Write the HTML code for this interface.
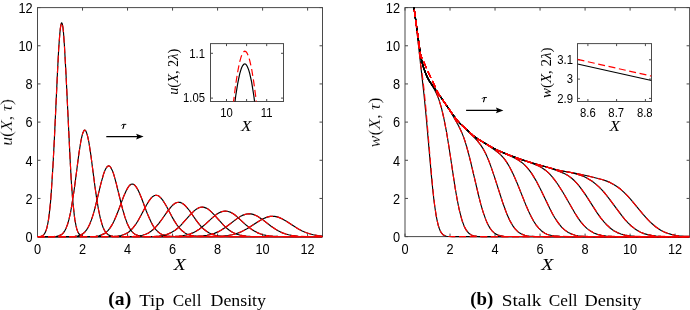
<!DOCTYPE html>
<html><head><meta charset="utf-8"><style>
html,body{margin:0;padding:0;background:#fff;}
body{width:690px;height:310px;overflow:hidden;}
svg{display:block;will-change:transform;}
</style></head><body>
<svg width="690" height="310" viewBox="0 0 690 310">
<defs><clipPath id="cl"><rect x="37.50" y="6.60" width="285.00" height="231.00"/></clipPath>
<clipPath id="cr"><rect x="405.00" y="7.60" width="284.60" height="231.00"/></clipPath></defs>
<rect x="37.50" y="7.60" width="285.00" height="229.00" fill="none" stroke="#4a4a4a" stroke-width="1"/>
<path d="M37.50 236.60v-3.00M37.50 7.60v3.00" stroke="#4a4a4a" stroke-width="1"/>
<path d="M82.52 236.60v-3.00M82.52 7.60v3.00" stroke="#4a4a4a" stroke-width="1"/>
<path d="M127.54 236.60v-3.00M127.54 7.60v3.00" stroke="#4a4a4a" stroke-width="1"/>
<path d="M172.56 236.60v-3.00M172.56 7.60v3.00" stroke="#4a4a4a" stroke-width="1"/>
<path d="M217.58 236.60v-3.00M217.58 7.60v3.00" stroke="#4a4a4a" stroke-width="1"/>
<path d="M262.60 236.60v-3.00M262.60 7.60v3.00" stroke="#4a4a4a" stroke-width="1"/>
<path d="M307.62 236.60v-3.00M307.62 7.60v3.00" stroke="#4a4a4a" stroke-width="1"/>
<path d="M37.50 236.60h3.00M322.50 236.60h-3.00" stroke="#4a4a4a" stroke-width="1"/>
<path d="M37.50 198.43h3.00M322.50 198.43h-3.00" stroke="#4a4a4a" stroke-width="1"/>
<path d="M37.50 160.27h3.00M322.50 160.27h-3.00" stroke="#4a4a4a" stroke-width="1"/>
<path d="M37.50 122.10h3.00M322.50 122.10h-3.00" stroke="#4a4a4a" stroke-width="1"/>
<path d="M37.50 83.93h3.00M322.50 83.93h-3.00" stroke="#4a4a4a" stroke-width="1"/>
<path d="M37.50 45.77h3.00M322.50 45.77h-3.00" stroke="#4a4a4a" stroke-width="1"/>
<path d="M37.50 7.60h3.00M322.50 7.60h-3.00" stroke="#4a4a4a" stroke-width="1"/>
<rect x="405.00" y="7.60" width="284.60" height="229.00" fill="none" stroke="#4a4a4a" stroke-width="1"/>
<path d="M405.00 236.60v-3.00M405.00 7.60v3.00" stroke="#4a4a4a" stroke-width="1"/>
<path d="M450.02 236.60v-3.00M450.02 7.60v3.00" stroke="#4a4a4a" stroke-width="1"/>
<path d="M495.04 236.60v-3.00M495.04 7.60v3.00" stroke="#4a4a4a" stroke-width="1"/>
<path d="M540.06 236.60v-3.00M540.06 7.60v3.00" stroke="#4a4a4a" stroke-width="1"/>
<path d="M585.08 236.60v-3.00M585.08 7.60v3.00" stroke="#4a4a4a" stroke-width="1"/>
<path d="M630.10 236.60v-3.00M630.10 7.60v3.00" stroke="#4a4a4a" stroke-width="1"/>
<path d="M675.12 236.60v-3.00M675.12 7.60v3.00" stroke="#4a4a4a" stroke-width="1"/>
<path d="M405.00 236.60h3.00M689.60 236.60h-3.00" stroke="#4a4a4a" stroke-width="1"/>
<path d="M405.00 198.43h3.00M689.60 198.43h-3.00" stroke="#4a4a4a" stroke-width="1"/>
<path d="M405.00 160.27h3.00M689.60 160.27h-3.00" stroke="#4a4a4a" stroke-width="1"/>
<path d="M405.00 122.10h3.00M689.60 122.10h-3.00" stroke="#4a4a4a" stroke-width="1"/>
<path d="M405.00 83.93h3.00M689.60 83.93h-3.00" stroke="#4a4a4a" stroke-width="1"/>
<path d="M405.00 45.77h3.00M689.60 45.77h-3.00" stroke="#4a4a4a" stroke-width="1"/>
<path d="M405.00 7.60h3.00M689.60 7.60h-3.00" stroke="#4a4a4a" stroke-width="1"/>
<g clip-path="url(#cl)" fill="none" stroke-linejoin="round">
<path d="M37.5 236.6L40.7 236.3L41.6 236.0L42.6 235.6L43.5 234.9L44.2 234.2L45.4 232.1L46.7 228.6L47.6 224.6L48.6 219.2L49.5 211.8L50.5 202.4L51.4 190.5L53.0 165.2L54.3 140.4L57.5 71.9L58.7 48.5L59.7 35.1L60.3 28.7L61.0 24.6L61.3 23.4L61.6 22.9L61.9 23.0L62.2 23.7L62.9 27.0L63.5 32.7L64.4 45.2L66.0 74.1L70.2 161.3L71.4 182.8L72.7 200.0L74.3 215.4L74.9 219.9L75.9 225.2L76.8 229.0L77.8 231.7L78.7 233.5L80.0 235.0L81.2 235.8L82.8 236.3L84.7 236.5L87.9 236.6L322.5 236.6" stroke="#000" stroke-width="1.15"/>
<path d="M37.5 236.6L53.4 236.5L56.5 236.3L58.7 235.8L61.0 234.9L61.9 234.3L62.9 233.4L64.4 231.4L66.0 228.4L67.6 224.2L68.9 219.7L70.5 212.7L71.7 205.8L74.3 189.0L79.0 152.9L80.9 141.0L81.9 136.4L82.8 133.0L83.8 130.9L84.4 130.2L84.7 130.1L85.1 130.2L85.7 130.8L86.6 132.8L87.6 136.1L88.9 142.3L90.8 154.6L94.9 186.1L96.5 197.4L98.4 209.0L100.3 218.2L102.2 224.9L103.1 227.5L104.4 230.2L105.3 231.7L106.6 233.3L107.9 234.4L109.5 235.4L111.0 235.9L113.3 236.3L116.1 236.5L120.2 236.6L322.5 236.6" stroke="#000" stroke-width="1.15"/>
<path d="M37.5 236.6L67.6 236.6L74.9 236.3L78.1 235.8L80.6 235.0L82.8 233.8L84.7 232.2L86.6 229.9L88.2 227.3L89.8 224.0L91.4 219.9L93.0 215.1L94.9 208.4L100.9 183.7L103.4 174.6L104.7 171.0L106.0 168.3L107.2 166.6L107.9 166.1L108.5 165.9L109.1 166.0L109.8 166.3L110.4 167.0L111.0 167.9L112.3 170.4L113.6 173.9L116.1 182.8L120.9 202.5L122.8 209.9L125.0 217.4L127.2 223.4L129.4 228.0L130.7 230.0L132.0 231.6L133.2 232.9L134.5 233.9L136.1 234.8L137.7 235.4L139.9 236.0L142.4 236.3L150.4 236.6L322.5 236.6" stroke="#000" stroke-width="1.15"/>
<path d="M37.5 236.6L82.8 236.6L92.0 236.5L95.8 236.2L99.0 235.7L101.5 234.9L103.8 233.9L106.0 232.4L108.2 230.3L110.1 227.9L112.0 224.9L113.9 221.2L116.1 216.3L118.3 210.7L123.4 197.1L126.3 190.5L127.9 187.6L129.4 185.5L130.4 184.7L131.0 184.3L132.3 184.0L133.6 184.3L134.2 184.7L135.1 185.6L136.7 187.7L138.3 190.6L141.2 197.2L146.2 210.8L148.8 217.1L151.3 222.6L153.5 226.5L156.1 229.9L158.6 232.4L159.9 233.3L161.5 234.3L163.0 234.9L164.6 235.4L167.2 236.0L170.0 236.3L178.6 236.6L322.5 236.6" stroke="#000" stroke-width="1.15"/>
<path d="M37.5 236.6L109.8 236.5L114.2 236.4L117.7 236.0L120.9 235.5L123.4 234.8L125.9 233.7L128.5 232.2L131.0 230.0L133.2 227.6L135.5 224.7L138.0 220.7L140.5 216.2L146.2 205.5L149.4 200.3L151.3 197.9L152.9 196.4L154.5 195.5L156.1 195.2L157.7 195.5L159.2 196.3L160.8 197.8L162.7 200.1L165.9 205.3L171.9 216.6L174.5 221.1L177.0 225.0L179.5 228.2L182.1 230.8L184.9 232.9L187.8 234.4L190.9 235.4L193.5 235.9L196.6 236.3L200.4 236.5L205.8 236.6L322.5 236.6" stroke="#000" stroke-width="1.15"/>
<path d="M37.5 236.6L127.2 236.5L136.1 236.2L139.6 235.8L142.4 235.2L145.6 234.2L148.5 232.9L151.0 231.3L153.5 229.3L156.1 226.7L158.9 223.3L161.8 219.5L167.8 210.9L171.3 206.6L173.2 204.7L175.1 203.3L177.0 202.5L178.6 202.3L180.2 202.4L182.1 203.2L184.0 204.5L185.9 206.3L187.4 208.1L189.4 210.5L195.7 219.6L198.5 223.4L201.4 226.8L203.9 229.3L206.5 231.3L209.3 233.1L212.2 234.4L215.3 235.3L218.2 235.8L221.4 236.2L225.5 236.4L230.6 236.6L322.5 236.6" stroke="#000" stroke-width="1.15"/>
<path d="M37.5 236.6L145.6 236.6L155.7 236.3L159.2 236.0L162.4 235.5L165.9 234.7L169.1 233.6L172.2 232.1L175.1 230.2L177.9 228.0L180.8 225.3L183.6 222.2L190.6 214.3L194.4 210.6L196.6 209.0L198.5 207.9L200.4 207.3L202.3 207.1L204.3 207.4L206.2 208.1L208.1 209.1L210.3 210.9L213.8 214.3L223.3 224.9L226.1 227.7L229.0 230.0L231.5 231.7L234.1 233.0L236.9 234.2L239.8 235.0L242.6 235.6L246.1 236.1L250.2 236.4L255.3 236.5L322.5 236.6" stroke="#000" stroke-width="1.15"/>
<path d="M37.5 236.6L164.0 236.6L175.1 236.3L178.9 236.1L182.4 235.7L186.2 235.0L189.7 234.1L192.8 232.9L196.0 231.3L199.2 229.2L202.3 226.8L205.5 224.1L212.8 217.4L216.9 214.1L219.2 212.7L221.1 211.9L223.3 211.2L225.2 211.0L227.1 211.2L229.0 211.7L230.9 212.4L232.8 213.5L234.7 214.8L236.9 216.6L246.4 225.3L249.0 227.4L251.5 229.3L254.3 231.1L257.2 232.6L260.0 233.8L262.9 234.7L266.1 235.4L269.2 235.8L273.0 236.2L277.8 236.4L288.9 236.6L322.5 236.6" stroke="#000" stroke-width="1.15"/>
<path d="M37.5 236.6L183.3 236.6L195.1 236.4L203.0 235.9L207.1 235.3L210.9 234.5L214.4 233.4L217.9 231.9L221.4 230.0L224.9 227.8L228.0 225.5L236.0 219.4L240.1 216.6L242.3 215.4L244.5 214.6L246.7 214.0L249.0 213.8L250.9 213.9L253.1 214.4L255.3 215.2L257.5 216.3L261.6 218.9L271.1 226.2L275.6 229.3L278.1 230.8L280.7 232.1L283.2 233.1L285.7 234.0L288.6 234.8L291.4 235.4L294.6 235.8L298.4 236.2L307.3 236.5L322.5 236.6" stroke="#000" stroke-width="1.15"/>
<path d="M37.5 236.6L202.7 236.6L215.3 236.4L223.6 236.0L228.0 235.5L232.1 234.7L236.0 233.7L239.8 232.4L243.2 230.8L247.0 228.8L258.8 221.2L263.2 218.7L265.8 217.6L268.0 216.9L270.2 216.4L272.4 216.3L274.6 216.4L277.2 216.9L279.4 217.6L281.9 218.7L286.4 221.2L294.9 226.8L298.4 228.9L302.2 231.0L305.7 232.5L309.5 233.8L313.3 234.8L317.7 235.6L322.5 236.1" stroke="#000" stroke-width="1.15"/>
<path d="M37.5 236.6L40.7 236.3L41.6 236.0L42.6 235.6L43.5 234.9L44.2 234.2L45.4 232.1L46.7 228.6L47.6 224.6L48.6 219.2L49.5 211.8L50.5 202.4L51.4 190.5L53.0 165.2L54.3 140.4L57.5 71.9L58.7 48.5L59.7 35.1L60.3 28.7L61.0 24.6L61.3 23.4L61.6 22.9L61.9 23.0L62.2 23.7L62.9 27.0L63.5 32.7L64.4 45.2L66.0 74.1L70.2 161.3L71.4 182.8L72.7 200.0L74.3 215.4L74.9 219.9L75.9 225.2L76.8 229.0L77.8 231.7L78.7 233.5L80.0 235.0L81.2 235.8L82.8 236.3L84.7 236.5L87.9 236.6L322.5 236.6" stroke="#f00" stroke-width="1.15" stroke-dasharray="7 3.6"/>
<path d="M37.5 236.6L53.4 236.5L56.5 236.3L58.7 235.8L61.0 234.9L61.9 234.3L62.9 233.4L64.4 231.4L66.0 228.4L67.6 224.2L68.9 219.7L70.5 212.7L71.7 205.8L74.3 189.0L79.0 152.9L80.9 141.0L81.9 136.4L82.8 133.0L83.8 130.9L84.4 130.2L84.7 130.1L85.1 130.2L85.7 130.8L86.6 132.8L87.6 136.1L88.9 142.3L90.8 154.6L94.9 186.1L96.5 197.4L98.4 209.0L100.3 218.2L102.2 224.9L103.1 227.5L104.4 230.2L105.3 231.7L106.6 233.3L107.9 234.4L109.5 235.4L111.0 235.9L113.3 236.3L116.1 236.5L120.2 236.6L322.5 236.6" stroke="#f00" stroke-width="1.15" stroke-dasharray="7 3.6"/>
<path d="M37.5 236.6L67.6 236.6L74.9 236.3L78.1 235.8L80.6 235.0L82.8 233.8L84.7 232.2L86.6 229.9L88.2 227.3L89.8 224.0L91.4 219.9L93.0 215.1L94.9 208.4L100.9 183.7L103.4 174.6L104.7 171.0L106.0 168.3L107.2 166.6L107.9 166.1L108.5 165.9L109.1 166.0L109.8 166.3L110.4 167.0L111.0 167.9L112.3 170.4L113.6 173.9L116.1 182.8L120.9 202.5L122.8 209.9L125.0 217.4L127.2 223.4L129.4 228.0L130.7 230.0L132.0 231.6L133.2 232.9L134.5 233.9L136.1 234.8L137.7 235.4L139.9 236.0L142.4 236.3L150.4 236.6L322.5 236.6" stroke="#f00" stroke-width="1.15" stroke-dasharray="7 3.6"/>
<path d="M37.5 236.6L82.8 236.6L92.0 236.5L95.8 236.2L99.0 235.7L101.5 234.9L103.8 233.9L106.0 232.4L108.2 230.3L110.1 227.9L112.0 224.9L113.9 221.2L116.1 216.3L118.3 210.7L123.4 197.1L126.3 190.5L127.9 187.6L129.4 185.5L130.4 184.7L131.0 184.3L132.3 184.0L133.6 184.3L134.2 184.7L135.1 185.6L136.7 187.7L138.3 190.6L141.2 197.2L146.2 210.8L148.8 217.1L151.3 222.6L153.5 226.5L156.1 229.9L158.6 232.4L159.9 233.3L161.5 234.3L163.0 234.9L164.6 235.4L167.2 236.0L170.0 236.3L178.6 236.6L322.5 236.6" stroke="#f00" stroke-width="1.15" stroke-dasharray="7 3.6"/>
<path d="M37.5 236.6L109.8 236.5L114.2 236.4L117.7 236.0L120.9 235.5L123.4 234.8L125.9 233.7L128.5 232.2L131.0 230.0L133.2 227.6L135.5 224.7L138.0 220.7L140.5 216.2L146.2 205.5L149.4 200.3L151.3 197.9L152.9 196.4L154.5 195.5L156.1 195.2L157.7 195.5L159.2 196.3L160.8 197.8L162.7 200.1L165.9 205.3L171.9 216.6L174.5 221.1L177.0 225.0L179.5 228.2L182.1 230.8L184.9 232.9L187.8 234.4L190.9 235.4L193.5 235.9L196.6 236.3L200.4 236.5L205.8 236.6L322.5 236.6" stroke="#f00" stroke-width="1.15" stroke-dasharray="7 3.6"/>
<path d="M37.5 236.6L127.2 236.5L136.1 236.2L139.6 235.8L142.4 235.2L145.6 234.2L148.5 232.9L151.0 231.3L153.5 229.3L156.1 226.7L158.9 223.3L161.8 219.5L167.8 210.9L171.3 206.6L173.2 204.7L175.1 203.3L177.0 202.5L178.6 202.3L180.2 202.4L182.1 203.2L184.0 204.5L185.9 206.3L187.4 208.1L189.4 210.5L195.7 219.6L198.5 223.4L201.4 226.8L203.9 229.3L206.5 231.3L209.3 233.1L212.2 234.4L215.3 235.3L218.2 235.8L221.4 236.2L225.5 236.4L230.6 236.6L322.5 236.6" stroke="#f00" stroke-width="1.15" stroke-dasharray="7 3.6"/>
<path d="M37.5 236.6L145.6 236.6L155.7 236.3L159.2 236.0L162.4 235.5L165.9 234.7L169.1 233.6L172.2 232.1L175.1 230.2L177.9 228.0L180.8 225.3L183.6 222.2L190.6 214.3L194.4 210.6L196.6 209.0L198.5 207.9L200.4 207.3L202.3 207.1L204.3 207.4L206.2 208.1L208.1 209.1L210.3 210.9L213.8 214.3L223.3 224.9L226.1 227.7L229.0 230.0L231.5 231.7L234.1 233.0L236.9 234.2L239.8 235.0L242.6 235.6L246.1 236.1L250.2 236.4L255.3 236.5L322.5 236.6" stroke="#f00" stroke-width="1.15" stroke-dasharray="7 3.6"/>
<path d="M37.5 236.6L164.0 236.6L175.1 236.3L178.9 236.1L182.4 235.7L186.2 235.0L189.7 234.1L192.8 232.9L196.0 231.3L199.2 229.2L202.3 226.8L205.5 224.1L212.8 217.4L216.9 214.1L219.2 212.7L221.1 211.9L223.3 211.2L225.2 211.0L227.1 211.2L229.0 211.7L230.9 212.4L232.8 213.5L234.7 214.8L236.9 216.6L246.4 225.3L249.0 227.4L251.5 229.3L254.3 231.1L257.2 232.6L260.0 233.8L262.9 234.7L266.1 235.4L269.2 235.8L273.0 236.2L277.8 236.4L288.9 236.6L322.5 236.6" stroke="#f00" stroke-width="1.15" stroke-dasharray="7 3.6"/>
<path d="M37.5 236.6L183.3 236.6L195.1 236.4L203.0 235.9L207.1 235.3L210.9 234.5L214.4 233.4L217.9 231.9L221.4 230.0L224.9 227.8L228.0 225.5L236.0 219.4L240.1 216.6L242.3 215.4L244.5 214.6L246.7 214.0L249.0 213.8L250.9 213.9L253.1 214.4L255.3 215.2L257.5 216.3L261.6 218.9L271.1 226.2L275.6 229.3L278.1 230.8L280.7 232.1L283.2 233.1L285.7 234.0L288.6 234.8L291.4 235.4L294.6 235.8L298.4 236.2L307.3 236.5L322.5 236.6" stroke="#f00" stroke-width="1.15" stroke-dasharray="7 3.6"/>
<path d="M37.5 236.6L202.7 236.6L215.3 236.4L223.6 236.0L228.0 235.5L232.1 234.7L236.0 233.7L239.8 232.4L243.2 230.8L247.0 228.8L258.8 221.2L263.2 218.7L265.8 217.6L268.0 216.9L270.2 216.4L272.4 216.3L274.6 216.4L277.2 216.9L279.4 217.6L281.9 218.7L286.4 221.2L294.9 226.8L298.4 228.9L302.2 231.0L305.7 232.5L309.5 233.8L313.3 234.8L317.7 235.6L322.5 236.1" stroke="#f00" stroke-width="1.15" stroke-dasharray="7 3.6"/>
</g>
<g clip-path="url(#cr)" fill="none" stroke-linejoin="round">
<path d="M405.0 -3.8L412.2 -3.8L412.4 -3.7L415.3 17.7L417.3 34.6L424.0 94.8L426.3 118.2L431.4 175.9L432.9 191.0L434.2 202.5L436.1 215.4L437.1 220.4L438.2 225.2L439.2 228.3L440.3 231.0L441.6 233.2L443.0 234.7L444.5 235.6L446.4 236.2L448.7 236.5L452.3 236.6L689.6 236.6" stroke="#000" stroke-width="1.15"/>
<path d="M405.0 -3.8L412.4 -3.8L420.2 52.3L420.9 56.9L422.1 62.3L423.8 68.3L426.3 74.9L428.7 80.1L433.9 88.5L436.3 93.3L437.7 96.4L439.0 99.9L441.3 107.3L443.7 117.5L446.4 131.4L448.9 146.5L455.1 187.7L457.2 199.7L459.1 209.1L461.4 218.2L462.5 221.8L463.9 225.4L465.0 227.9L466.3 230.2L467.7 232.0L469.2 233.6L471.3 234.9L472.6 235.5L473.9 235.9L477.1 236.4L482.1 236.6L689.6 236.6" stroke="#000" stroke-width="1.15"/>
<path d="M405.0 -3.8L412.4 -3.8L420.6 54.8L421.5 59.8L422.7 64.5L423.6 67.7L425.1 72.0L427.4 77.4L429.7 81.5L432.0 84.8L442.2 99.1L448.5 108.5L451.3 112.9L457.2 123.2L459.7 128.0L461.8 132.6L463.5 136.9L465.0 141.2L468.0 151.5L470.9 162.8L478.7 196.0L480.9 204.7L483.2 212.4L485.7 219.4L487.0 222.6L488.3 225.3L489.7 227.6L491.0 229.5L492.3 231.1L493.9 232.6L495.2 233.6L496.5 234.4L498.0 235.0L499.7 235.6L503.7 236.3L509.2 236.5L689.6 236.6" stroke="#000" stroke-width="1.15"/>
<path d="M405.0 -3.8L412.4 -3.8L419.2 45.7L420.9 56.9L422.1 62.3L423.4 67.2L425.3 72.5L427.2 77.0L428.9 80.2L431.4 84.0L441.1 97.5L453.2 115.2L456.1 119.0L459.7 123.2L467.7 130.7L477.0 140.4L480.4 144.6L483.2 148.9L485.1 152.5L486.8 156.1L488.7 160.6L490.6 165.6L494.2 176.1L502.6 202.3L505.1 209.3L507.3 215.1L510.0 220.9L512.5 225.3L515.1 228.9L517.8 231.6L519.3 232.8L521.0 233.8L522.9 234.6L524.8 235.3L526.9 235.8L529.2 236.1L535.2 236.5L548.0 236.6L689.6 236.6" stroke="#000" stroke-width="1.15"/>
<path d="M405.0 -3.8L412.4 -3.8L419.4 47.0L421.1 57.9L422.7 64.5L424.2 69.4L426.5 75.3L428.9 80.2L431.6 84.3L441.6 98.3L453.6 115.7L456.8 119.9L459.3 122.8L461.6 125.0L470.9 133.5L474.5 136.6L477.9 139.0L484.7 143.2L490.2 146.8L494.4 149.7L497.5 152.0L499.6 153.7L501.4 155.6L503.3 157.7L505.1 159.9L507.1 162.9L509.2 166.3L511.3 170.2L513.6 175.0L517.4 183.8L526.3 206.1L528.8 211.8L531.1 216.5L533.7 221.3L536.2 225.1L538.7 228.1L541.3 230.7L543.0 232.0L544.9 233.2L547.0 234.2L549.1 234.9L551.4 235.5L553.9 235.9L560.1 236.4L573.8 236.6L689.6 236.6" stroke="#000" stroke-width="1.15"/>
<path d="M405.0 -3.8L412.4 -3.8L419.4 47.0L420.6 54.8L421.5 59.8L423.2 66.5L425.7 73.5L428.2 78.9L430.8 83.2L441.6 98.3L453.4 115.4L456.6 119.7L458.5 122.0L460.6 124.1L472.0 134.5L474.7 136.7L477.9 138.9L492.5 147.7L498.4 150.6L512.1 156.7L517.4 159.5L520.1 161.2L522.3 162.9L524.6 164.9L526.7 167.1L529.0 169.8L531.3 172.9L533.5 176.4L536.0 180.6L540.4 189.0L549.9 208.7L552.3 213.5L554.6 217.5L557.1 221.3L559.4 224.4L561.8 227.3L564.3 229.6L566.2 231.1L568.3 232.4L570.6 233.6L572.8 234.5L575.3 235.2L578.0 235.7L580.8 236.1L584.2 236.3L589.9 236.5L598.5 236.6L689.6 236.6" stroke="#000" stroke-width="1.15"/>
<path d="M405.0 -3.8L412.4 -3.8L419.2 45.7L420.9 56.9L422.1 62.3L423.4 67.2L425.5 73.0L427.4 77.4L429.1 80.6L431.6 84.3L441.1 97.5L453.2 115.2L456.3 119.2L458.5 122.0L460.6 124.1L472.8 135.2L475.6 137.4L479.4 139.9L490.4 146.5L495.9 149.5L501.8 152.1L510.0 155.4L517.2 158.1L530.5 162.7L535.6 164.7L538.7 166.1L541.5 167.6L544.0 169.2L546.3 170.9L549.1 173.4L551.8 176.3L554.6 179.8L557.6 184.0L563.2 192.7L574.7 212.8L577.8 217.6L580.6 221.6L583.8 225.4L587.1 228.6L590.5 231.1L593.9 233.0L597.5 234.4L601.5 235.4L606.3 236.0L611.9 236.4L625.4 236.6L689.6 236.6" stroke="#000" stroke-width="1.15"/>
<path d="M405.0 -3.8L412.4 -3.8L419.2 45.7L420.9 56.9L422.1 62.3L423.4 67.2L425.5 73.0L427.4 77.4L429.1 80.6L431.6 84.3L441.1 97.5L453.2 115.2L456.3 119.2L458.5 122.0L460.6 124.1L472.8 135.2L475.1 137.0L477.9 138.9L490.1 146.3L495.4 149.2L501.8 152.1L511.5 156.0L522.5 159.9L532.8 163.1L548.2 167.5L555.2 169.9L560.1 171.7L563.3 173.1L566.2 174.5L568.8 176.1L571.7 178.3L574.5 180.8L577.4 183.9L580.4 187.6L585.6 194.9L597.3 213.1L600.7 217.8L604.0 221.8L607.2 225.3L610.4 228.2L613.8 230.7L617.3 232.6L620.9 234.0L624.9 235.1L629.4 235.8L634.7 236.3L647.6 236.6L689.6 236.6" stroke="#000" stroke-width="1.15"/>
<path d="M405.0 -3.8L412.4 -3.8L419.2 45.7L420.9 56.9L422.1 62.3L423.4 67.2L425.5 73.0L427.4 77.4L429.1 80.6L431.6 84.3L441.1 97.5L453.2 115.2L456.3 119.2L458.5 122.0L460.6 124.1L472.8 135.2L475.2 137.1L478.5 139.3L488.7 145.5L493.1 148.0L496.5 149.7L500.5 151.5L511.3 155.9L518.0 158.4L525.0 160.7L539.2 165.0L557.5 170.0L561.1 170.7L570.7 172.5L577.0 174.1L580.2 175.2L583.3 176.3L585.9 177.5L588.4 178.9L592.2 181.3L595.8 184.1L599.2 187.1L602.6 190.7L605.5 194.0L608.5 197.8L621.8 215.7L625.2 219.8L628.3 223.1L631.3 226.0L634.4 228.4L637.4 230.4L640.6 232.2L644.0 233.6L647.6 234.6L651.6 235.4L656.2 236.0L661.1 236.3L667.2 236.5L689.6 236.6" stroke="#000" stroke-width="1.15"/>
<path d="M405.0 -3.8L412.4 -3.8L419.2 45.7L420.9 56.9L422.1 62.3L423.4 67.2L425.5 73.0L427.4 77.4L429.1 80.6L431.6 84.3L441.1 97.5L453.2 115.2L456.3 119.2L458.5 122.0L460.6 124.1L472.8 135.2L475.4 137.3L478.9 139.5L489.5 146.0L494.6 148.8L499.7 151.2L506.6 154.1L512.7 156.4L519.5 158.9L526.7 161.3L534.1 163.5L555.6 169.5L560.9 170.7L574.5 173.1L587.1 175.8L601.9 179.5L606.1 180.9L609.9 182.4L613.7 184.4L617.3 186.7L620.7 189.3L624.3 192.6L627.3 195.6L630.7 199.4L642.7 213.8L647.6 219.4L650.3 222.1L653.0 224.5L655.6 226.7L658.1 228.5L661.1 230.4L664.3 232.1L667.6 233.3L671.2 234.4L675.0 235.2L679.2 235.8L683.9 236.2L689.6 236.4" stroke="#000" stroke-width="1.15"/>
<path d="M405.0 -3.8L412.2 -3.8L412.4 -3.7L417.2 33.0L420.6 64.6L422.5 76.6L424.0 89.3L426.3 112.9L431.8 178.0L433.3 193.4L434.6 204.8L435.6 211.6L436.5 217.4L437.5 222.1L438.4 225.9L439.4 228.8L440.5 231.4L441.6 233.2L443.0 234.7L444.5 235.6L446.4 236.2L448.7 236.5L452.3 236.6L689.6 236.6" stroke="#f00" stroke-width="1.15" stroke-dasharray="7 3.6"/>
<path d="M405.0 -3.8L412.4 -3.8L420.6 55.1L421.1 56.8L422.5 59.0L423.0 60.2L426.8 69.1L431.6 79.6L433.7 84.6L436.7 92.9L440.1 103.5L441.5 108.0L443.9 118.4L446.4 131.4L448.9 146.5L455.1 187.7L457.2 199.7L459.1 209.1L461.4 218.2L462.5 221.8L463.9 225.4L465.0 227.9L466.3 230.2L467.7 232.0L469.2 233.6L471.3 234.9L472.6 235.5L473.9 235.9L477.1 236.4L482.1 236.6L689.6 236.6" stroke="#f00" stroke-width="1.15" stroke-dasharray="7 3.6"/>
<path d="M405.0 -3.8L412.4 -3.8L420.2 52.7L420.8 55.9L421.3 57.2L422.3 58.6L422.8 59.7L427.8 71.2L438.4 93.6L439.6 95.5L442.2 99.1L448.1 107.9L452.1 114.2L455.5 120.1L457.8 124.3L460.2 129.2L462.1 133.5L463.7 137.4L465.2 141.8L468.2 152.2L471.1 163.6L478.7 196.0L480.9 204.7L483.2 212.4L485.7 219.4L487.0 222.6L488.3 225.3L489.7 227.6L491.0 229.5L492.3 231.1L493.9 232.6L495.2 233.6L496.5 234.4L498.0 235.0L499.7 235.6L503.7 236.3L509.2 236.5L689.6 236.6" stroke="#f00" stroke-width="1.15" stroke-dasharray="7 3.6"/>
<path d="M405.0 -3.8L412.4 -3.8L420.2 52.7L420.8 55.9L421.3 57.2L422.3 58.6L422.8 59.7L427.6 70.8L437.7 92.1L438.6 94.0L439.6 95.5L442.2 99.1L453.4 115.4L456.6 119.7L459.9 123.4L467.7 130.7L477.0 140.4L480.4 144.6L483.4 149.3L485.3 152.8L487.0 156.5L488.9 161.0L490.8 166.1L494.2 176.1L502.6 202.3L504.9 208.8L507.1 214.7L509.8 220.5L512.3 225.0L514.9 228.7L516.3 230.2L517.8 231.6L519.3 232.8L521.0 233.8L522.9 234.6L524.8 235.3L526.9 235.8L529.2 236.1L535.2 236.5L548.0 236.6L689.6 236.6" stroke="#f00" stroke-width="1.15" stroke-dasharray="7 3.6"/>
<path d="M405.0 -3.8L412.4 -3.8L420.2 52.7L420.8 55.9L421.3 57.2L422.3 58.6L422.8 59.7L427.8 71.2L438.6 94.0L454.0 116.2L457.4 120.6L460.2 123.7L471.3 133.9L474.5 136.6L477.9 139.0L484.7 143.2L490.2 146.8L494.4 149.7L497.5 152.0L499.6 153.7L501.4 155.6L503.2 157.5L504.9 159.6L507.0 162.6L509.0 166.0L511.1 169.9L513.4 174.6L517.4 183.8L526.3 206.1L528.8 211.8L531.1 216.5L533.7 221.3L536.2 225.1L538.7 228.1L541.3 230.7L543.0 232.0L544.9 233.2L547.0 234.2L549.1 234.9L551.4 235.5L553.9 235.9L560.1 236.4L573.8 236.6L689.6 236.6" stroke="#f00" stroke-width="1.15" stroke-dasharray="7 3.6"/>
<path d="M405.0 -3.8L412.4 -3.8L420.2 52.7L420.8 55.9L421.3 57.2L422.3 58.6L422.8 59.7L427.6 70.8L437.5 91.7L438.6 94.0L439.6 95.5L442.2 99.1L453.6 115.7L457.6 120.9L459.3 122.8L461.2 124.7L473.3 135.7L475.8 137.5L478.9 139.5L488.9 145.6L493.1 148.0L498.6 150.7L511.9 156.6L517.0 159.3L519.7 161.0L522.1 162.8L524.4 164.8L526.5 166.9L529.0 169.8L531.3 172.9L533.5 176.4L536.0 180.6L540.4 189.0L550.1 209.1L552.5 213.8L554.8 217.8L557.3 221.6L559.5 224.7L561.8 227.3L564.3 229.6L566.2 231.1L568.3 232.4L570.6 233.6L572.8 234.5L575.3 235.2L578.0 235.7L580.8 236.1L584.2 236.3L589.9 236.5L598.5 236.6L689.6 236.6" stroke="#f00" stroke-width="1.15" stroke-dasharray="7 3.6"/>
<path d="M405.0 -3.8L412.4 -3.8L420.2 52.7L420.8 55.9L421.3 57.2L422.3 58.6L422.8 59.7L427.6 70.8L437.8 92.5L439.7 95.8L442.2 99.1L453.6 115.7L457.2 120.4L458.9 122.4L461.0 124.5L472.8 135.2L475.6 137.4L479.4 139.9L490.4 146.5L495.9 149.5L501.8 152.1L510.0 155.4L517.2 158.1L530.5 162.7L535.6 164.7L538.7 166.1L541.5 167.6L544.0 169.2L546.3 170.9L549.1 173.4L551.8 176.3L554.6 179.8L557.6 184.0L563.2 192.7L574.7 212.8L577.8 217.6L580.6 221.6L583.8 225.4L587.1 228.6L590.5 231.1L593.9 233.0L597.5 234.4L601.5 235.4L606.3 236.0L611.9 236.4L625.4 236.6L689.6 236.6" stroke="#f00" stroke-width="1.15" stroke-dasharray="7 3.6"/>
<path d="M405.0 -3.8L412.4 -3.8L420.2 52.7L420.8 55.9L421.3 57.2L422.3 58.6L422.8 59.7L427.6 70.8L437.8 92.5L439.7 95.8L442.2 99.1L453.6 115.7L457.2 120.4L458.9 122.4L461.0 124.5L472.8 135.2L475.1 137.0L477.9 138.9L490.1 146.3L495.4 149.2L501.8 152.1L511.5 156.0L522.5 159.9L532.8 163.1L548.2 167.5L555.2 169.9L560.1 171.7L563.3 173.1L566.2 174.5L568.8 176.1L571.7 178.3L574.5 180.8L577.4 183.9L580.4 187.6L585.6 194.9L597.3 213.1L600.7 217.8L604.0 221.8L607.2 225.3L610.4 228.2L613.8 230.7L617.3 232.6L620.9 234.0L624.9 235.1L629.4 235.8L634.7 236.3L647.6 236.6L689.6 236.6" stroke="#f00" stroke-width="1.15" stroke-dasharray="7 3.6"/>
<path d="M405.0 -3.8L412.4 -3.8L420.2 52.7L420.8 55.9L421.3 57.2L422.3 58.6L422.8 59.7L427.6 70.8L437.8 92.5L439.7 95.8L442.2 99.1L453.6 115.7L457.2 120.4L458.9 122.4L461.0 124.5L472.8 135.2L475.2 137.1L478.5 139.3L488.7 145.5L493.1 148.0L496.5 149.7L500.5 151.5L511.3 155.9L518.0 158.4L525.0 160.7L539.2 165.0L557.5 170.0L561.1 170.7L570.7 172.5L577.0 174.1L580.2 175.2L583.3 176.3L585.9 177.5L588.4 178.9L592.2 181.3L595.8 184.1L599.2 187.1L602.6 190.7L605.5 194.0L608.5 197.8L621.8 215.7L625.2 219.8L628.3 223.1L631.3 226.0L634.4 228.4L637.4 230.4L640.6 232.2L644.0 233.6L647.6 234.6L651.6 235.4L656.2 236.0L661.1 236.3L667.2 236.5L689.6 236.6" stroke="#f00" stroke-width="1.15" stroke-dasharray="7 3.6"/>
<path d="M405.0 -3.8L412.4 -3.8L420.2 52.7L420.8 55.9L421.3 57.2L422.3 58.6L422.8 59.7L427.6 70.8L437.8 92.5L439.7 95.8L442.2 99.1L453.6 115.7L457.2 120.4L458.9 122.4L461.0 124.5L472.8 135.2L475.4 137.3L478.9 139.5L489.5 146.0L494.6 148.8L499.7 151.2L506.6 154.1L512.7 156.4L519.5 158.9L526.7 161.3L534.1 163.5L555.6 169.5L560.9 170.7L574.5 173.1L587.1 175.8L601.9 179.5L606.1 180.9L609.9 182.4L613.7 184.4L617.3 186.7L620.7 189.3L624.3 192.6L627.3 195.6L630.7 199.4L642.7 213.8L647.6 219.4L650.3 222.1L653.0 224.5L655.6 226.7L658.1 228.5L661.1 230.4L664.3 232.1L667.6 233.3L671.2 234.4L675.0 235.2L679.2 235.8L683.9 236.2L689.6 236.4" stroke="#f00" stroke-width="1.15" stroke-dasharray="7 3.6"/>
</g>
<text transform="translate(37.50 254.00) scale(0.880 1)" font-size="14.50" text-anchor="middle" font-family="Liberation Sans, sans-serif" fill="#000" >0</text>
<text transform="translate(405.00 254.00) scale(0.880 1)" font-size="14.50" text-anchor="middle" font-family="Liberation Sans, sans-serif" fill="#000" >0</text>
<text transform="translate(82.52 254.00) scale(0.880 1)" font-size="14.50" text-anchor="middle" font-family="Liberation Sans, sans-serif" fill="#000" >2</text>
<text transform="translate(450.02 254.00) scale(0.880 1)" font-size="14.50" text-anchor="middle" font-family="Liberation Sans, sans-serif" fill="#000" >2</text>
<text transform="translate(127.54 254.00) scale(0.880 1)" font-size="14.50" text-anchor="middle" font-family="Liberation Sans, sans-serif" fill="#000" >4</text>
<text transform="translate(495.04 254.00) scale(0.880 1)" font-size="14.50" text-anchor="middle" font-family="Liberation Sans, sans-serif" fill="#000" >4</text>
<text transform="translate(172.56 254.00) scale(0.880 1)" font-size="14.50" text-anchor="middle" font-family="Liberation Sans, sans-serif" fill="#000" >6</text>
<text transform="translate(540.06 254.00) scale(0.880 1)" font-size="14.50" text-anchor="middle" font-family="Liberation Sans, sans-serif" fill="#000" >6</text>
<text transform="translate(217.58 254.00) scale(0.880 1)" font-size="14.50" text-anchor="middle" font-family="Liberation Sans, sans-serif" fill="#000" >8</text>
<text transform="translate(585.08 254.00) scale(0.880 1)" font-size="14.50" text-anchor="middle" font-family="Liberation Sans, sans-serif" fill="#000" >8</text>
<text transform="translate(262.60 254.00) scale(0.880 1)" font-size="14.50" text-anchor="middle" font-family="Liberation Sans, sans-serif" fill="#000" >10</text>
<text transform="translate(630.10 254.00) scale(0.880 1)" font-size="14.50" text-anchor="middle" font-family="Liberation Sans, sans-serif" fill="#000" >10</text>
<text transform="translate(307.62 254.00) scale(0.880 1)" font-size="14.50" text-anchor="middle" font-family="Liberation Sans, sans-serif" fill="#000" >12</text>
<text transform="translate(675.12 254.00) scale(0.880 1)" font-size="14.50" text-anchor="middle" font-family="Liberation Sans, sans-serif" fill="#000" >12</text>
<text transform="translate(32.60 241.90) scale(0.880 1)" font-size="14.50" text-anchor="end" font-family="Liberation Sans, sans-serif" fill="#000" >0</text>
<text transform="translate(400.00 241.90) scale(0.880 1)" font-size="14.50" text-anchor="end" font-family="Liberation Sans, sans-serif" fill="#000" >0</text>
<text transform="translate(32.60 203.73) scale(0.880 1)" font-size="14.50" text-anchor="end" font-family="Liberation Sans, sans-serif" fill="#000" >2</text>
<text transform="translate(400.00 203.73) scale(0.880 1)" font-size="14.50" text-anchor="end" font-family="Liberation Sans, sans-serif" fill="#000" >2</text>
<text transform="translate(32.60 165.57) scale(0.880 1)" font-size="14.50" text-anchor="end" font-family="Liberation Sans, sans-serif" fill="#000" >4</text>
<text transform="translate(400.00 165.57) scale(0.880 1)" font-size="14.50" text-anchor="end" font-family="Liberation Sans, sans-serif" fill="#000" >4</text>
<text transform="translate(32.60 127.40) scale(0.880 1)" font-size="14.50" text-anchor="end" font-family="Liberation Sans, sans-serif" fill="#000" >6</text>
<text transform="translate(400.00 127.40) scale(0.880 1)" font-size="14.50" text-anchor="end" font-family="Liberation Sans, sans-serif" fill="#000" >6</text>
<text transform="translate(32.60 89.23) scale(0.880 1)" font-size="14.50" text-anchor="end" font-family="Liberation Sans, sans-serif" fill="#000" >8</text>
<text transform="translate(400.00 89.23) scale(0.880 1)" font-size="14.50" text-anchor="end" font-family="Liberation Sans, sans-serif" fill="#000" >8</text>
<text transform="translate(32.60 51.07) scale(0.880 1)" font-size="14.50" text-anchor="end" font-family="Liberation Sans, sans-serif" fill="#000" >10</text>
<text transform="translate(400.00 51.07) scale(0.880 1)" font-size="14.50" text-anchor="end" font-family="Liberation Sans, sans-serif" fill="#000" >10</text>
<text transform="translate(32.60 12.90) scale(0.880 1)" font-size="14.50" text-anchor="end" font-family="Liberation Sans, sans-serif" fill="#000" >12</text>
<text transform="translate(400.00 12.90) scale(0.880 1)" font-size="14.50" text-anchor="end" font-family="Liberation Sans, sans-serif" fill="#000" >12</text>
<text x="173.80" y="269.80" font-size="16.0" font-family="Liberation Serif, serif" font-style="italic" textLength="12.00" lengthAdjust="spacingAndGlyphs">X</text>
<text x="541.30" y="269.80" font-size="16.0" font-family="Liberation Serif, serif" font-style="italic" textLength="12.00" lengthAdjust="spacingAndGlyphs">X</text>
<text transform="translate(12.00 122.40) rotate(-90)" x="-23.40" y="0" font-size="17.0" font-family="Liberation Serif, serif" textLength="46.80" lengthAdjust="spacingAndGlyphs" stroke="#fff" stroke-width="0.18"><tspan font-style="italic">u</tspan>(<tspan font-style="italic">X</tspan>, <tspan font-style="italic">τ</tspan>)</text>
<text transform="translate(380.00 122.50) rotate(-90)" x="-24.90" y="0" font-size="17.0" font-family="Liberation Serif, serif" textLength="49.80" lengthAdjust="spacingAndGlyphs" stroke="#fff" stroke-width="0.18"><tspan font-style="italic">w</tspan>(<tspan font-style="italic">X</tspan>, <tspan font-style="italic">τ</tspan>)</text>
<path d="M106.30 136.60H140.60" stroke="#000" stroke-width="1.3"/><path d="M136.10 133.80L143.60 136.60L136.10 139.40L137.40 136.60Z" fill="#000"/>
<path d="M466.10 110.40H500.40" stroke="#000" stroke-width="1.3"/><path d="M495.90 107.60L503.40 110.40L495.90 113.20L497.20 110.40Z" fill="#000"/>
<g transform="translate(0.00 0.00)" fill="none" stroke="#000" stroke-linecap="round"><path d="M121.6 125.2Q122.1 124.35 123.2 124.35H125.9" stroke-width="0.95"/><path d="M123.9 124.6Q123.6 126.9 122.9 128.5" stroke-width="1.15"/></g>
<g transform="translate(360.60 -26.80)" fill="none" stroke="#000" stroke-linecap="round"><path d="M121.6 125.2Q122.1 124.35 123.2 124.35H125.9" stroke-width="0.95"/><path d="M123.9 124.6Q123.6 126.9 122.9 128.5" stroke-width="1.15"/></g>
<rect x="210.50" y="43.60" width="73.00" height="57.90" fill="#fff" stroke="none"/>
<rect x="210.50" y="43.60" width="73.00" height="57.90" fill="none" stroke="#4a4a4a" stroke-width="1"/>
<path d="M226.50 101.50v-2.50M226.50 43.60v2.50" stroke="#4a4a4a" stroke-width="1"/>
<path d="M246.60 101.50v-2.50M246.60 43.60v2.50" stroke="#4a4a4a" stroke-width="1"/>
<path d="M266.70 101.50v-2.50M266.70 43.60v2.50" stroke="#4a4a4a" stroke-width="1"/>
<path d="M210.50 53.30h2.50M283.50 53.30h-2.50" stroke="#4a4a4a" stroke-width="1"/>
<path d="M210.50 98.10h2.50M283.50 98.10h-2.50" stroke="#4a4a4a" stroke-width="1"/>
<clipPath id="ci1"><rect x="210.50" y="43.60" width="73.00" height="57.90"/></clipPath>
<g clip-path="url(#ci1)" fill="none">
<path d="M206.4 502.9L215.0 358.8L220.1 277.4L225.0 207.8L227.1 180.1L229.3 154.9L231.4 132.3L233.6 112.6L235.7 96.0L237.6 84.2L238.7 78.6L239.7 73.9L240.8 70.1L241.6 67.8L242.7 65.6L243.8 64.3L244.3 64.0L244.9 63.9L245.7 64.2L246.5 65.0L247.5 66.9L248.6 69.6L249.7 73.3L251.6 81.9L253.7 95.0L255.6 109.1L257.8 128.2L259.9 150.3L262.1 175.1L264.2 202.3L266.4 231.7L270.9 300.1L275.2 369.7L286.8 562.6" stroke="#000" stroke-width="1.2"/>
<path d="M206.4 495.0L215.0 349.7L220.1 267.7L225.0 197.5L227.1 169.5L229.3 144.0L231.4 121.1L233.6 101.1L235.7 84.3L237.6 72.3L238.7 66.6L239.7 61.8L240.8 57.9L241.6 55.5L242.7 53.2L243.8 51.8L244.3 51.4L244.9 51.2L245.7 51.5L246.5 52.2L247.5 54.0L248.6 56.7L249.7 60.3L251.6 68.7L253.7 81.6L255.6 95.7L257.8 114.7L259.9 136.7L262.1 161.4L264.2 188.7L266.4 218.2L270.9 286.8L275.5 361.1L286.8 551.3" stroke="#f00" stroke-width="1.2" stroke-dasharray="7 3.6"/>
</g>
<text transform="translate(226.50 117.00) scale(0.920 1)" font-size="12.30" text-anchor="middle" font-family="Liberation Sans, sans-serif" fill="#000" >10</text>
<text transform="translate(266.70 117.00) scale(0.920 1)" font-size="12.30" text-anchor="middle" font-family="Liberation Sans, sans-serif" fill="#000" >11</text>
<text transform="translate(205.00 57.50) scale(0.920 1)" font-size="12.30" text-anchor="end" font-family="Liberation Sans, sans-serif" fill="#000" >1.1</text>
<text transform="translate(205.00 102.30) scale(0.920 1)" font-size="12.30" text-anchor="end" font-family="Liberation Sans, sans-serif" fill="#000" >1.05</text>
<text x="241.05" y="130.60" font-size="14.5" font-family="Liberation Serif, serif" font-style="italic" textLength="10.50" lengthAdjust="spacingAndGlyphs">X</text>
<text transform="translate(177.80 71.80) rotate(-90)" x="-23.00" y="0" font-size="15.0" font-family="Liberation Serif, serif" textLength="46.00" lengthAdjust="spacingAndGlyphs"><tspan font-style="italic">u</tspan>(<tspan font-style="italic">X</tspan>, 2<tspan font-style="italic">λ</tspan>)</text>
<rect x="577.50" y="43.60" width="74.00" height="57.90" fill="#fff" stroke="none"/>
<rect x="577.50" y="43.60" width="74.00" height="57.90" fill="none" stroke="#4a4a4a" stroke-width="1"/>
<path d="M587.90 101.50v-2.50M587.90 43.60v2.50" stroke="#4a4a4a" stroke-width="1"/>
<path d="M616.60 101.50v-2.50M616.60 43.60v2.50" stroke="#4a4a4a" stroke-width="1"/>
<path d="M645.40 101.50v-2.50M645.40 43.60v2.50" stroke="#4a4a4a" stroke-width="1"/>
<path d="M577.50 59.80h2.50M651.50 59.80h-2.50" stroke="#4a4a4a" stroke-width="1"/>
<path d="M577.50 79.10h2.50M651.50 79.10h-2.50" stroke="#4a4a4a" stroke-width="1"/>
<path d="M577.50 98.40h2.50M651.50 98.40h-2.50" stroke="#4a4a4a" stroke-width="1"/>
<clipPath id="ci2"><rect x="577.50" y="43.60" width="74.00" height="57.90"/></clipPath>
<g clip-path="url(#ci2)" fill="none">
<path d="M577.5 64L651.5 80.5" stroke="#000" stroke-width="1.2"/>
<path d="M577.5 59.4L651.5 76.1" stroke="#f00" stroke-width="1.2" stroke-dasharray="7 3.6"/>
</g>
<text transform="translate(587.90 116.50) scale(0.920 1)" font-size="12.30" text-anchor="middle" font-family="Liberation Sans, sans-serif" fill="#000" >8.6</text>
<text transform="translate(616.20 116.50) scale(0.920 1)" font-size="12.30" text-anchor="middle" font-family="Liberation Sans, sans-serif" fill="#000" >8.7</text>
<text transform="translate(644.80 116.50) scale(0.920 1)" font-size="12.30" text-anchor="middle" font-family="Liberation Sans, sans-serif" fill="#000" >8.8</text>
<text transform="translate(573.00 63.80) scale(0.920 1)" font-size="12.30" text-anchor="end" font-family="Liberation Sans, sans-serif" fill="#000" >3.1</text>
<text transform="translate(573.00 83.20) scale(0.920 1)" font-size="12.30" text-anchor="end" font-family="Liberation Sans, sans-serif" fill="#000" >3</text>
<text transform="translate(573.00 102.60) scale(0.920 1)" font-size="12.30" text-anchor="end" font-family="Liberation Sans, sans-serif" fill="#000" >2.9</text>
<text x="609.55" y="130.60" font-size="14.5" font-family="Liberation Serif, serif" font-style="italic" textLength="10.50" lengthAdjust="spacingAndGlyphs">X</text>
<text transform="translate(550.80 72.80) rotate(-90)" x="-25.25" y="0" font-size="15.0" font-family="Liberation Serif, serif" textLength="50.50" lengthAdjust="spacingAndGlyphs"><tspan font-style="italic">w</tspan>(<tspan font-style="italic">X</tspan>, 2<tspan font-style="italic">λ</tspan>)</text>
<text x="108.30" y="305.30" font-size="19.5" font-family="Liberation Serif, serif" font-weight="bold" textLength="22.90" lengthAdjust="spacingAndGlyphs">(a)</text>
<text x="139.30" y="305.60" font-size="16.5" font-family="Liberation Serif, serif"  textLength="25.30" lengthAdjust="spacingAndGlyphs">Tip</text>
<text x="172.80" y="305.60" font-size="16.5" font-family="Liberation Serif, serif"  textLength="28.60" lengthAdjust="spacingAndGlyphs">Cell</text>
<text x="210.50" y="305.60" font-size="16.5" font-family="Liberation Serif, serif"  textLength="55.50" lengthAdjust="spacingAndGlyphs">Density</text>
<text x="470.30" y="305.30" font-size="19.5" font-family="Liberation Serif, serif" font-weight="bold" textLength="23.00" lengthAdjust="spacingAndGlyphs">(b)</text>
<text x="501.80" y="305.60" font-size="16.5" font-family="Liberation Serif, serif"  textLength="39.60" lengthAdjust="spacingAndGlyphs">Stalk</text>
<text x="548.80" y="305.60" font-size="16.5" font-family="Liberation Serif, serif"  textLength="28.80" lengthAdjust="spacingAndGlyphs">Cell</text>
<text x="584.50" y="305.60" font-size="16.5" font-family="Liberation Serif, serif"  textLength="56.90" lengthAdjust="spacingAndGlyphs">Density</text>
</svg>
</body></html>
